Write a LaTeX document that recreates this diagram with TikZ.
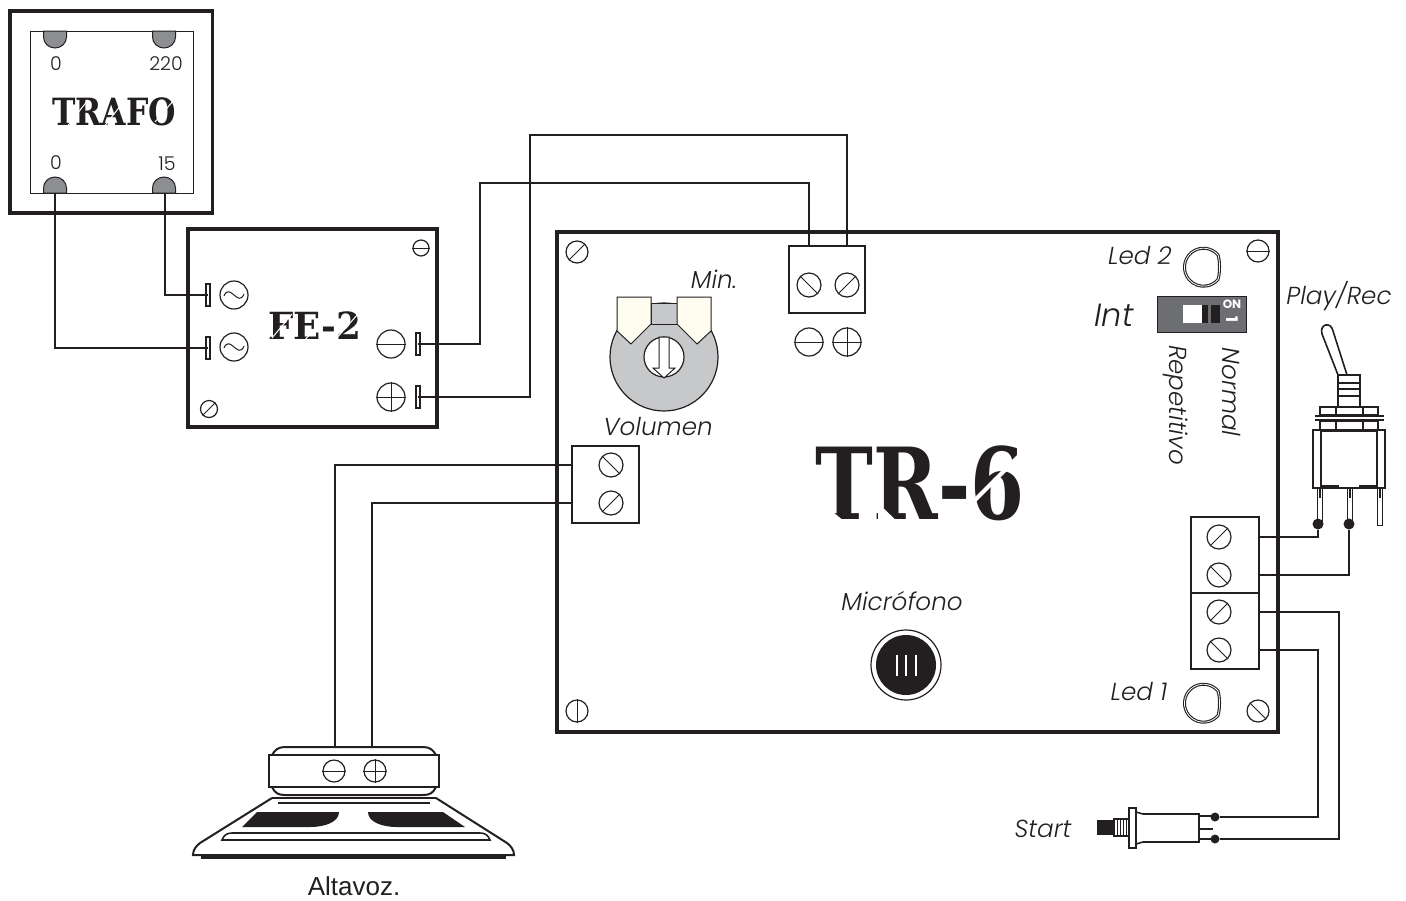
\documentclass[tikz,border=0pt]{standalone}
\usepackage{fontspec}
\setmainfont{Poppins Light}
\newfontfamily\arialfont{Liberation Sans}
\newfontfamily\stencilfont{DejaVu Serif}
\newfontfamily\dipfont{Poppins}
\definecolor{luggray}{HTML}{8C8E91}
\definecolor{potgray}{HTML}{C7C8CA}
\definecolor{dipgray}{HTML}{6D6E71}
\definecolor{potcream}{HTML}{FFFDF0}
\definecolor{inkblack}{HTML}{231F20}
\tikzset{
	box/.style={draw=inkblack, line width=1.8pt},
	term/.style={draw=inkblack, line width=1.1pt, rectangle, inner sep=0pt},
	wire/.style={draw=inkblack, line width=1pt},
	fine/.style={draw=inkblack, line width=0.5pt},
	ink/.style={circle, draw=inkblack, line width=0.6pt, inner sep=0pt},
	pin/.style={rectangle, draw=inkblack, line width=0.6pt, fill=white, minimum width=2pt, minimum height=11pt, inner sep=0pt},
	dot/.style={circle, fill=inkblack, inner sep=0pt, minimum size=5.5pt},
	lab/.style={font=\fontsize{12.3}{14}\selectfont\itshape, text=inkblack, inner sep=0pt},
	num/.style={font=\fontsize{9.5}{11}\selectfont, text=inkblack, inner sep=0pt},
	title/.style={font=\stencilfont\bfseries, text=inkblack, inner sep=0pt},
	cut/.style={draw=white, line width=1pt},
	led/.style={draw=inkblack, line width=1.5pt}
}
\begin{document}
\begin{tikzpicture}[x=0.5pt,y=-0.5pt]
	\useasboundingbox (0,0) rectangle (1406,900);

	% TRAFO
	\draw [box] (10,11) rectangle (212.5,213);
	\draw [fine] (30,31) rectangle (193,193);
	\foreach \x in {55,164} {
		\draw [fine, fill=luggray] (\x-11.5,31) -- (\x-11.5,37) arc [start angle=180, end angle=360, x radius=5.75pt, y radius=5.5pt] -- (\x+11.5,31) -- cycle;
		\draw [fine, fill=luggray] (\x-11.5,193) -- (\x-11.5,188) arc [start angle=180, end angle=0, x radius=5.75pt, y radius=5.5pt] -- (\x+11.5,193) -- cycle;
	}
	\node [num] (lugA) at (56,64) {0};
	\node [num] (lugB) at (166,64) {220};
	\node [num] (lugC) at (56,163) {0};
	\node [num] (lugD) at (167,164) {15};
	\node [title] (trafo) at (114,112) {\scalebox{1.05}[1.25]{\fontsize{15}{15}\selectfont TRAFO}};
	\draw [cut, line width=0.5pt] (66,128) -- (88,100) (103,128) -- (125,100) (155,122) -- (174,100);
	\coordinate (outC) at (55,193);
	\coordinate (outD) at (165,193);

	% FE-2
	\draw [box] (188,229) rectangle (437,427);
	\node [pin] (acA) at (208,295) {};
	\node [pin] (acB) at (208,348) {};
	\node [pin] (dcA) at (418,344) {};
	\node [pin] (dcB) at (418,397) {};
	\node [ink, minimum size=14pt] (acsymA) at (234,295) {};
	\node [ink, minimum size=14pt] (acsymB) at (234,347) {};
	\foreach \n in {acsymA,acsymB}
		\draw [fine] (\n.center) ++(-10,1) .. controls +(6,-14) and +(-6,14) .. ++(20,-2);
	\node [ink, minimum size=14pt] (minusfe) at (391,344) {};
	\node [ink, minimum size=14pt] (plusfe) at (391,397) {};
	\node [title] (fe) at (315,326) {\scalebox{1.05}[1.1]{\fontsize{17}{17}\selectfont FE-2}};
	\draw [cut, line width=0.5pt] (272,338) -- (292,314) (305,340) -- (325,316) (335,340) -- (358,314);

	% Trafo to FE-2
	\draw [wire] (outC) |- (acB.center);
	\draw [wire] (outD) |- (acA.center);

	% TR-6 BOARD
	\draw [box] (557,232) rectangle (1278,732);

	% Terminals
	\node [term, minimum width=38pt, minimum height=33.5pt] (termtop) at (827,279.5) {};
	\node [term, minimum width=33.5pt, minimum height=38.5pt] (termvol) at (605.5,484.5) {};
	\node [term, minimum width=34pt, minimum height=38pt] (termrec) at (1225,555) {};
	\node [term, minimum width=34pt, minimum height=38pt] (termled) at (1225,631) {};

	% Screws
	\foreach \n/\x/\y/\s/\a/\b in {
		fixA/421/248/8/0/180, fixB/209/409/8.5/45/225,
		fixC/577/252/11/45/225, fixD/1258/251/11/0/180, fixE/577/711/11/90/270, fixF/1258/711/11/135/315,
		topA/809/285/12/135/315, topB/847/285/12/45/225,
		volA/611/465/12/135/315, volB/611/503/12/45/225,
		recA/1219/537/12/45/225, recB/1219/575/12/135/315, ledA/1219/612/12/45/225, ledB/1219/650/12/135/315} {
		\node [ink, minimum size=\s pt] (\n) at (\x,\y) {};
		\draw [fine] (\n.\a) -- (\n.\b);
	}
	\foreach \n in {minusfe,plusfe}
		\draw [fine] (\n.west) -- (\n.east);
	\draw [fine] (plusfe.north) -- (plusfe.south);

	% Sign under terminal
	\node [ink, minimum size=14pt] (minustop) at (809,342) {};
	\node [ink, minimum size=14pt] (plustop) at (847,342) {};
	\draw [fine] (minustop.west) -- (minustop.east);
	\draw [fine] (plustop.west) -- (plustop.east);
	\draw [fine] (plustop.north) -- (plustop.south);

	% Long wires to terminal
	\coordinate (bendA) at (480,183);
	\coordinate (bendB) at (530,135);
	\draw [wire] (dcA.center) -| (bendA) -| (topA |- termtop.north);
	\draw [wire] (dcB.center) -| (bendB) -| (topB |- termtop.north);

	% Volume pot
	\node [ink, fill=potgray, minimum size=54pt] (pot) at (664,357) {};
	\draw [fine, fill=potgray] (651,303) rectangle (677,324);
	\draw [fine, fill=potcream] (617,297) -- (651,297) -- (651,324) -- (631,344) -- (617,331) -- cycle;
	\draw [fine, fill=potcream] (677,297) -- (711,297) -- (711,331) -- (697,344) -- (677,324) -- cycle;
	\node [ink, fill=white, minimum size=20pt] (knob) at (664,357) {};
	\draw [fine, fill=white] (659,337) -- (669,337) -- (669,368) -- (675,368) -- (664,378) -- (653,368) -- (659,368) -- cycle;
	\node [lab] (minlab) at (714,279) {Min.};
	\node [lab] (vollab) at (658,426) {Volumen};

	% Leds
	\foreach \y in {267,703} {
		\draw [led] (1218,\y-12) arc [start angle=40, end angle=320, radius=9.5pt] .. controls (1220,\y+6) and (1220,\y-6) .. cycle;
		\draw [draw=white, line width=0.4pt] (1218,\y-12) arc [start angle=40, end angle=320, radius=9.5pt] .. controls (1220,\y+6) and (1220,\y-6) .. cycle;
	}
	\node [lab] (ledlabB) at (1140,255) {Led 2};
	\node [lab] (ledlabA) at (1139,691) {Led 1};

	% Dip switch
	\draw [fine, fill=dipgray] (1157,296) rectangle (1246,332);
	\fill [white] (1183,305) rectangle (1202,323);
	\fill [inkblack] (1202,305) rectangle (1220,323);
	\fill [dipgray] (1208,305) rectangle (1211,323);
	\node [inner sep=0pt, text=white, font=\dipfont\fontsize{6}{6}\selectfont\bfseries] (onlab) at (1232,304) {ON};
	\node [inner sep=0pt, text=white, rotate=-90, font=\dipfont\fontsize{8}{8}\selectfont\bfseries] (onelab) at (1232,320) {1};
	\node [lab, font=\fontsize{16}{18}\selectfont\itshape] (intlab) at (1114,315) {Int};
	\node [lab, rotate=-90] (normlab) at (1231,392) {Normal};
	\node [lab, rotate=-90] (replab) at (1176,405) {Repetitivo};

	% Title
	\node [title] (tr) at (920,483) {\scalebox{1.08}[1.38]{\fontsize{36}{36}\selectfont TR-6}};
	\fill [white] (822,503) -- (822,526) -- (850,526) -- cycle;
	\fill [white] (878,503) -- (878,526) -- (902,526) -- cycle;
	\draw [cut, line width=2pt] (960,515) -- (1020,455);

	% Microphone
	\node [lab] (miclab) at (902,601) {Micrófono};
	\node [ink, minimum size=35pt] (micring) at (906,665) {};
	\node [circle, fill=inkblack, inner sep=0pt, minimum size=30pt] (mic) at (906,665) {};
	\foreach \x in {897,906,916}
		\draw [draw=white, line width=0.6pt] (\x,655) -- (\x,676);

	% SPEAKER
	\coordinate (spkA) at (335,748);
	\coordinate (spkB) at (372,748);
	\draw [wire] (termvol.west |- volA) -| (spkA);
	\draw [wire] (termvol.west |- volB) -| (spkB);
	\draw [wire] (272,755) .. controls (275,750) and (278,747) .. (285,747) -- (423,747) .. controls (430,747) and (433,750) .. (436,755);
	\draw [wire] (272,787) .. controls (275,793) and (278,795) .. (285,795) -- (423,795) .. controls (430,795) and (433,793) .. (436,787);
	\draw [term] (269,755) rectangle (439,787);
	\node [ink, minimum size=11pt] (minusspk) at (334,771) {};
	\node [ink, minimum size=11pt] (plusspk) at (375,771) {};
	\draw [fine] (minusspk.west) -- (minusspk.east);
	\draw [fine] (plusspk.west) -- (plusspk.east);
	\draw [fine] (plusspk.north) -- (plusspk.south);
	\draw [wire] (272,798) -- (436,798);
	\draw [wire] (278,803) -- (430,803);
	\draw [wire] (272,798) -- (200,843) .. controls (196,846) and (193,850) .. (193,855) -- (514,855) .. controls (514,850) and (511,846) .. (507,843) -- (436,798);
	\fill [inkblack] (201,854) rectangle (506,859);
	\fill [inkblack] (257,812) -- (339,812) .. controls (339,822) and (325,827) .. (310,827) -- (242,827) -- cycle;
	\fill [inkblack] (368,812) -- (443,812) -- (465,827) -- (397,827) .. controls (382,827) and (368,822) .. (368,812) -- cycle;
	\draw [draw=inkblack, line width=0.8pt] (222,840) .. controls (224,835) and (227,833) .. (232,833) -- (480,833) .. controls (485,833) and (488,835) .. (490,840) -- cycle;
	\node [inner sep=0pt, text=inkblack, font=\arialfont\fontsize{13}{15}\selectfont] (spklab) at (354,886) {Altavoz.};

	% TOGGLE SWITCH
	\node [lab] (playlab) at (1339,296) {Play/Rec};
	\draw [fine, line width=0.8pt, fill=white] (1338,375) -- (1322,334) .. controls (1319,324) and (1331,321) .. (1333,331) -- (1347,375);
	\draw [fine, line width=0.8pt] (1338,375) rectangle (1360,407);
	\foreach \y in {383,389,396}
		\draw [fine, line width=0.8pt] (1338,\y) -- (1360,\y);
	\draw [fine, line width=0.8pt] (1320,407) rectangle (1378,415);
	\draw [fine, line width=0.8pt] (1336,407) -- (1336,415) (1363,407) -- (1363,415);
	\draw [fine, line width=0.8pt] (1320,421) rectangle (1378,430);
	\draw [fine, line width=0.8pt] (1336,421) -- (1336,430) (1363,421) -- (1363,430);
	\fill [inkblack] (1315,415) rectangle (1384,417);
	\fill [inkblack] (1315,419) rectangle (1384,421);
	\draw [fine, line width=0.8pt] (1313,430) rectangle (1385,488);
	\draw [fine, line width=0.8pt] (1321,430) -- (1321,486) -- (1338,486) -- (1338,488) (1377,430) -- (1377,486) -- (1360,486) -- (1360,488);
	\draw [draw=inkblack, line width=1.2pt] (1321,431) -- (1377,431);
	\foreach \x/\yend in {1319.5/524,1349.5/524,1379.5/525} {
		\draw [fine, fill=white] (\x-2.5,488) rectangle (\x+2.5,\yend);
		\fill [inkblack] (\x-1,488) rectangle (\x+1,498);
	}
	\node [dot] (swA) at (1318,524) {};
	\node [dot] (swB) at (1349,524) {};
	\draw [wire] (termrec.east |- recA) -| (swA);
	\draw [wire] (termrec.east |- recB) -| (swB);

	% START BUTTON
	\node [lab] (startlab) at (1043,829) {Start};
	\fill [inkblack] (1097,820) rectangle (1114,835);
	\draw [fine, line width=0.8pt] (1114,819) rectangle (1129,836);
	\foreach \x in {1117,1120,1123,1126}
		\draw [fine] (\x,819) -- (\x,836);
	\draw [fine, line width=0.8pt] (1129,808) rectangle (1136,848);
	\draw [fine, line width=0.8pt] (1136,812) -- (1143,814) -- (1199,814) -- (1199,842) -- (1143,842) -- (1136,844);
	\draw [fine, line width=0.8pt] (1199,816) -- (1215,816) (1199,839) -- (1215,839);
	\draw [draw=inkblack, line width=1.1pt] (1199,829) -- (1213,829);
	\node [dot, minimum size=4.5pt] (btnA) at (1215,817) {};
	\node [dot, minimum size=4.5pt] (btnB) at (1215,839) {};
	\coordinate (bendC) at (1318,651);
	\coordinate (bendD) at (1339,613);
	\draw [wire] (termled.east |- ledB) -| (bendC) |- (btnA);
	\draw [wire] (termled.east |- ledA) -| (bendD) |- (btnB);
\end{tikzpicture}
\end{document}
